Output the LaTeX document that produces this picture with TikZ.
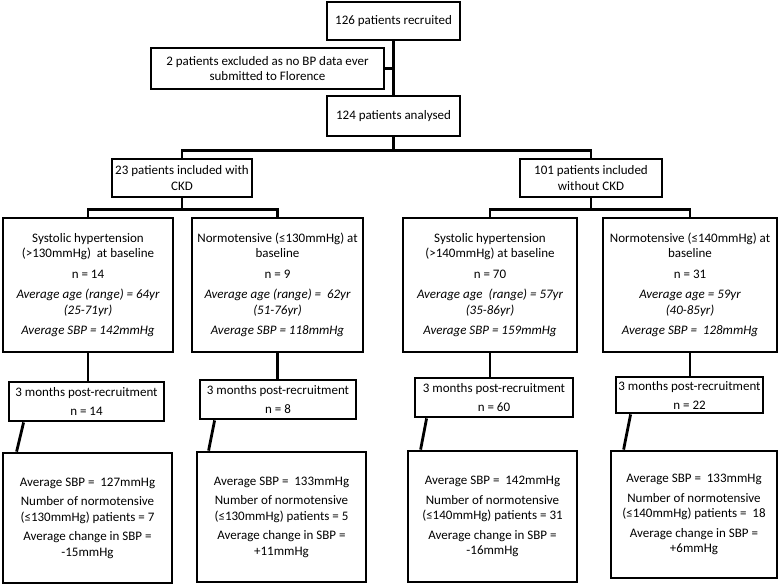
\documentclass[tikz,border=0pt]{standalone}
\usepackage{fontspec}
\setmainfont{Carlito}
\usetikzlibrary{calc}
\begin{document}
\begin{tikzpicture}[x=1pt,y=-1pt,
  box/.style={draw=black, line width=2.8pt, fill=white, inner sep=0pt, align=center,
    font=\fontsize{13}{15.5}\selectfont},
  conn/.style={draw=black, line width=2.8pt}
]
\useasboundingbox (0,0) rectangle (779,584);
% top
\node[box, minimum width=133pt, minimum height=38pt] (A) at (393.5,21) {126 patients recruited};
\node[box, minimum width=233pt, minimum height=41pt] (B) at (267.5,68.5) {2 patients excluded as no BP data ever\\submitted to Florence};
\node[box, minimum width=133pt, minimum height=40pt] (C) at (393.5,116) {124 patients analysed};
% groups
\node[box, minimum width=140pt, minimum height=38pt] (D) at (182,178) {23 patients included with\\CKD};
\node[box, minimum width=142pt, minimum height=38pt] (E) at (591,178) {101 patients included\\without CKD};
% baseline boxes
\node[box, minimum width=170pt, minimum height=134pt] (s1) at (88,285) {Systolic hypertension\\(>130mmHg)~ at baseline\\[5pt]n = 14\\[5pt]\itshape Average age (range) = 64yr\\\itshape (25-71yr)\\[5pt]\itshape Average SBP = 142mmHg};
\node[box, minimum width=171pt, minimum height=134pt] (s2) at (277.5,285) {Normotensive (≤130mmHg) at\\baseline\\[5pt]n = 9\\[5pt]\itshape Average age (range) =~ 62yr\\\itshape (51-76yr)\\[5pt]\itshape Average SBP = 118mmHg};
\node[box, minimum width=174pt, minimum height=134pt] (s3) at (490,285) {Systolic hypertension\\(>140mmHg) at baseline\\[5pt]n = 70\\[5pt]\itshape Average age~ (range) = 57yr\\\itshape (35-86yr)\\[5pt]\itshape Average SBP = 159mmHg};
\node[box, minimum width=174pt, minimum height=134pt] (s4) at (690,285) {Normotensive (≤140mmHg) at\\baseline\\[5pt]n = 31\\[5pt]\itshape Average age = 59yr\\\itshape (40-85yr)\\[5pt]\itshape Average SBP =~ 128mmHg};
% 3 months boxes
\node[box, minimum width=155pt, minimum height=39pt] (m1) at (86.5,401.5) {3 months post-recruitment\\[3.5pt]n = 14};
\node[box, minimum width=156pt, minimum height=39pt] (m2) at (278,399.5) {3 months post-recruitment\\[3.5pt]n = 8};
\node[box, minimum width=158pt, minimum height=39pt] (m3) at (494,397.5) {3 months post-recruitment\\[3.5pt]n = 60};
\node[box, minimum width=147pt, minimum height=36pt] (m4) at (689.5,395) {3 months post-recruitment\\[3.5pt]n = 22};
% result boxes
\node[box, minimum width=169pt, minimum height=130pt] (r1) at (87.5,518) {Average SBP =~ 127mmHg\\[4pt]Number of normotensive\\(≤130mmHg) patients = 7\\[4pt]Average change in SBP =\\-15mmHg};
\node[box, minimum width=169pt, minimum height=130pt] (r2) at (281.5,517) {Average SBP =~ 133mmHg\\[4pt]Number of normotensive\\(≤130mmHg) patients = 5\\[4pt]Average change in SBP =\\+11mmHg};
\node[box, minimum width=169pt, minimum height=131pt] (r3) at (492.5,516.5) {Average SBP =~ 142mmHg\\[4pt]Number of normotensive\\(≤140mmHg) patients = 31\\[4pt]Average change in SBP =\\-16mmHg};
\node[box, minimum width=166pt, minimum height=127pt] (r4) at (694,514.5) {Average SBP =~ 133mmHg\\[4pt]Number of normotensive\\(≤140mmHg) patients =~ 18\\[4pt]Average change in SBP =\\+6mmHg};
% connectors
\draw[conn] (A.south) -- (C.north);
\draw[conn] (B.east) -- (B.east -| A.south);
\draw[conn] (C.south) -- ++(0,13) -| (D.north);
\draw[conn] (C.south) -- ++(0,13) -| (E.north);
\draw[conn] (D.south) -- ++(0,11) -| (s1.north);
\draw[conn] (D.south) -- ++(0,11) -| (s2.north);
\draw[conn] (E.south) -- ++(0,11) -| (s3.north);
\draw[conn] (E.south) -- ++(0,11) -| (s4.north);
\draw[conn] (s1.south) -- (s1.south |- m1.north);
\draw[conn] (s2.south) -- (s2.south |- m2.north);
\draw[conn] (s3.south) -- (s3.south |- m3.north);
\draw[conn] (s4.south) -- (s4.south |- m4.north);
\draw[conn] ($(m1.south west)+(16,0)$) -- ($(r1.north west)+(15,0)$);
\draw[conn] ($(m2.south west)+(16,0)$) -- ($(r2.north west)+(13,0)$);
\draw[conn] ($(m3.south west)+(13,0)$) -- ($(r3.north west)+(14,0)$);
\draw[conn] ($(m4.south west)+(16,0)$) -- ($(r4.north west)+(14,0)$);
\end{tikzpicture}
\end{document}
